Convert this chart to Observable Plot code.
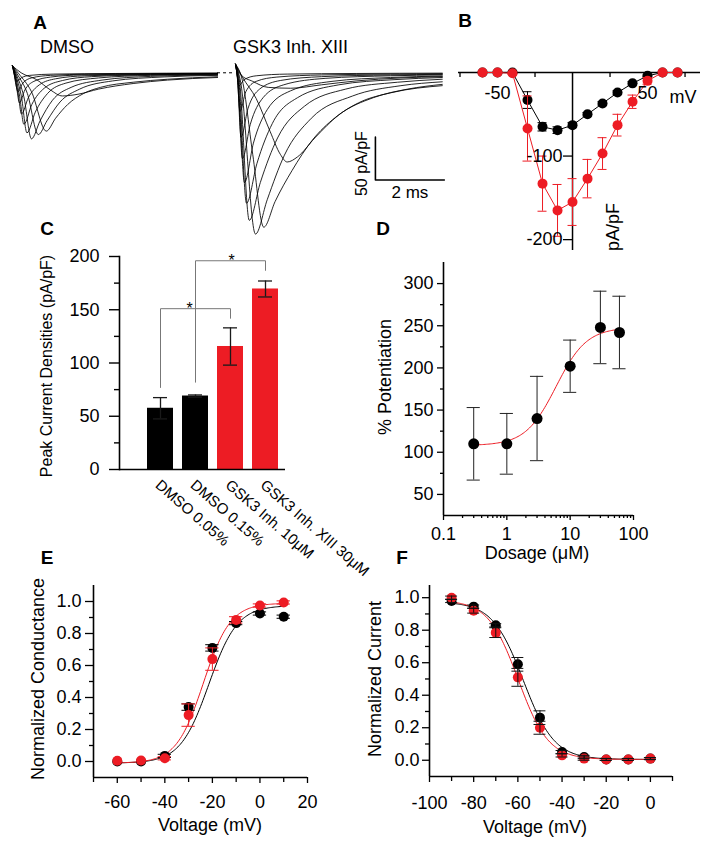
<!DOCTYPE html>
<html><head><meta charset="utf-8">
<script src="https://cdn.jsdelivr.net/npm/d3@7"></script>
<script src="https://cdn.jsdelivr.net/npm/@observablehq/plot@0.6"></script>
<style>
body{margin:0;background:#fff;}
#fig{position:relative;width:714px;height:848px;overflow:hidden;font-family:"Liberation Sans",Arial,Helvetica,sans-serif;color:#000;background:#fff;}
.p{position:absolute;}
.t{position:absolute;white-space:nowrap;line-height:1;}
</style></head><body><div id="fig"></div>
<script>
const RED = "#ed1c24";

// ---------- Panel A: representative traces (time ms, current pA/pF) ----------
const dmsoTraces = [
  [[0,8],[0.04,0],[0.12,-10],[0.25,-6],[0.5,-3],[1.2,-1.5],[3,-0.8],[5.95,-0.3]],
  [[0,8],[0.05,-2],[0.1,-14],[0.16,-22],[0.3,-12],[0.55,-6],[1.1,-3],[2.2,-1.6],[4,-1],[5.95,-0.6]],
  [[0,8],[0.05,-1],[0.13,-20],[0.2,-35],[0.36,-20],[0.62,-10],[1.1,-5],[2,-2.5],[4,-1.4],[5.95,-0.9]],
  [[0,8],[0.06,-1],[0.17,-26],[0.26,-48],[0.46,-29],[0.78,-14],[1.25,-7],[2.1,-3.5],[4,-1.8],[5.95,-1.1]],
  [[0,8],[0.07,-1],[0.21,-28],[0.33,-60],[0.56,-37],[0.92,-18],[1.45,-9],[2.3,-4.5],[4,-2.3],[5.95,-1.4]],
  [[0,8],[0.08,-1],[0.26,-28],[0.42,-70],[0.66,-46],[1.02,-24],[1.55,-12],[2.5,-6],[4,-3],[5.95,-1.8]],
  [[0,8],[0.1,-1],[0.33,-28],[0.55,-77],[0.8,-56],[1.16,-32],[1.7,-17],[2.6,-8.5],[4,-4.2],[5.95,-2.4]],
  [[0,8],[0.13,-1],[0.43,-24],[0.75,-72],[1.0,-56],[1.38,-34],[1.95,-19],[2.9,-9.5],[4.4,-4.8],[5.95,-3]],
  [[0,8],[0.18,-1],[0.55,-22],[0.98,-68],[1.25,-53],[1.6,-37],[2.07,-24],[2.55,-17],[3.5,-11],[4.5,-7.5],[5.95,-4.6]],
  [[0,8],[0.25,0],[0.7,-8],[1.1,-20],[1.45,-27],[1.9,-25],[2.5,-19],[3.5,-12.5],[4.5,-8.5],[5.95,-5.5]]
];
const gskTraces = [
  [[0,10],[0.04,0],[0.1,-15],[0.25,-8],[0.6,-3.5],[1.5,-1.5],[3.5,-0.8],[6,-0.4]],
  [[0,10],[0.05,-4],[0.13,-45],[0.3,-22],[0.6,-10],[1.2,-5],[2.5,-2.5],[4.5,-1.5],[6,-1]],
  [[0,10],[0.06,-8],[0.16,-75],[0.36,-42],[0.7,-19],[1.3,-9],[2.5,-4.5],[4.5,-2.5],[6,-1.8]],
  [[0,10],[0.07,-10],[0.2,-100],[0.43,-60],[0.8,-29],[1.4,-14],[2.6,-6.5],[4.5,-3.5],[6,-2.5]],
  [[0,10],[0.08,-11],[0.26,-128],[0.52,-82],[0.92,-43],[1.6,-21],[2.8,-10],[4.5,-5.5],[6,-3.8]],
  [[0,10],[0.1,-11],[0.32,-152],[0.62,-106],[1.07,-59],[1.8,-29],[3.0,-14],[4.6,-8],[6,-5.5]],
  [[0,10],[0.12,-11],[0.4,-172],[0.72,-128],[1.22,-76],[2.0,-39],[3.2,-19],[4.7,-11],[6,-7.5]],
  [[0,10],[0.15,-11],[0.58,-188],[0.92,-148],[1.42,-96],[2.2,-53],[3.4,-27],[4.8,-15],[6,-10.5]],
  [[0,10],[0.2,-9],[0.5,-95],[0.82,-180],[1.15,-150],[1.64,-114],[2.22,-79],[2.9,-52],[3.57,-35],[4.54,-23],[6,-15]],
  [[0,10],[0.2,-5],[0.6,-30],[1.0,-68],[1.3,-95],[1.5,-104],[1.8,-98],[2.3,-76],[3.0,-49],[4.0,-29],[5.0,-19],[6,-13.5]],
  [[0,10],[0.15,-2],[0.5,-10],[0.95,-17],[1.6,-18],[2.5,-14],[3.5,-9.5],[4.8,-6],[6,-4.5]]
];
const scaleBar = {t: 4.06, i: -125, dt: 2, di: 50, iLabel: "50 pA/pF", tLabel: "2 ms"};

// ---------- Panel B: I-V ----------
const ivVoltage = [-60,-50,-40,-30,-20,-10,0,10,20,30,40,50,60,70];
const ivDmso    = [0,0,0,-33,-65,-69,-63,-50,-37,-24,-13,-4,0,0];
const ivDmsoErr = [0,0,0,10,5,4,3,2,2,2,2,1,0,0];
const ivGsk     = [0,0,-1,-67,-133,-165,-155,-127,-97,-63,-35,-10,0,0];
const ivGskErr  = [0,0,1,39,33,31,28,23,19,13,8,4,0,0];
const ivTicksX = [-75,-50,-25,25,50,75];
const ivLabelsX = [-50,50];
const ivLabelsY = [-100,-200];

// ---------- Panel C: peak current densities ----------
const barLabels = ["DMSO 0.05%","DMSO 0.15%","GSK3 Inh. 10μM","GSK3 Inh. XIII 30μM"];
const barValues = [57.5, 69, 115.5, 169.5];
const barErr    = [10, 1, 17.5, 7.5];
const barGroup  = ["DMSO","DMSO","GSK","GSK"];
const brackets  = [{from: 0, to: 2, top: 151, left: 77, right: 142, star: 1},
                   {from: 1, to: 3, top: 196, left: 82, right: 187, star: 2}];
const cTicks = [0,50,100,150,200];
const cMinor = [25,75,125,175];

// ---------- Panel D: dose response ----------
const dose    = [0.3, 1, 3, 10, 30, 60];
const potMean = [110, 110, 140, 202, 248, 242];
const potErr  = [43, 36, 50, 31, 43, 43];
const hillFit = {bottom: 108, top: 248, ec50: 6, n: 1.8, from: 0.3, to: 60};
const dTicksY = [50,100,150,200,250,300];
const dMinorY = [75,125,175,225,275];
const dTicksX = [0.1,1,10,100];
const dMinorX = [0.2,0.3,0.4,0.5,0.6,0.7,0.8,0.9,2,3,4,5,6,7,8,9,20,30,40,50,60,70,80,90];

// ---------- Panel E: activation ----------
const gvVoltage = [-60,-50,-40,-30,-20,-10,0,10];
const gvDmso    = [0.0,0.0,0.035,0.34,0.71,0.865,0.925,0.905];
const gvDmsoErr = [0,0,0.01,0.02,0.02,0.01,0.01,0.01];
const gvGsk     = [0.005,0.006,0.02,0.29,0.64,0.885,0.975,0.994];
const gvGskErr  = [0,0,0.01,0.07,0.07,0.02,0.01,0.01];
const gvFitDmso = {bottom: -0.01, top: 0.975, vh: -21.5, k: 6.0};
const gvFitGsk  = {bottom: -0.01, top: 0.99, vh: -23.8, k: 5.7};

// ---------- Panel F: inactivation ----------
const ssVoltage = [-90,-80,-70,-60,-50,-40,-30,-20,-10,0];
const ssDmso    = [0.98,0.945,0.83,0.59,0.262,0.05,0.02,0.005,0.005,0.01];
const ssDmsoErr = [0.01,0.01,0.01,0.042,0.042,0.01,0.01,0.006,0.006,0.006];
const ssGsk     = [1.0,0.92,0.785,0.51,0.2,0.03,0.01,0.005,0.005,0.01];
const ssGskErr  = [0.01,0.015,0.03,0.055,0.04,0.01,0.01,0.006,0.006,0.006];
const ssFitDmso = {bottom: 0.005, top: 0.975, vh: -57.5, k: 7.0};
const ssFitGsk  = {bottom: 0.005, top: 0.985, vh: -59.8, k: 6.8};

// ================= rendering =================
const FONT = '"Liberation Sans", Arial, Helvetica, sans-serif';
const fig = document.getElementById("fig");
function style(extra) {
  return Object.assign({fontFamily: FONT, fontSize: "18px", background: "transparent",
    overflow: "visible", color: "#000", maxWidth: "none"}, extra || {});
}
function place(svg, left, top) {
  const d = document.createElement("div");
  d.className = "p"; d.style.left = left + "px"; d.style.top = top + "px";
  d.appendChild(svg); fig.appendChild(d);
}
function label(text, x, y, o = {}) {
  const d = document.createElement("div");
  d.className = "t"; d.textContent = text;
  d.style.left = x + "px"; d.style.top = y + "px";
  d.style.fontSize = (o.size || 18) + "px";
  if (o.bold) d.style.fontWeight = "bold";
  const tx = o.anchor === "start" ? "0" : "-50%";
  d.style.transform = `translate(${tx},-50%) rotate(${o.rotate || 0}deg)`;
  fig.appendChild(d);
}
function rows(xs, ys, es) { return xs.map((x, i) => ({x, y: ys[i], e: es ? es[i] : 0})); }
function errMarks(data, {cap, stroke = "#000", log = false, strokeWidth = 1}) {
  const dd = data.filter(d => d.e > 0);
  const x1 = log ? d => d.x / cap : d => d.x - cap;
  const x2 = log ? d => d.x * cap : d => d.x + cap;
  return [
    Plot.ruleX(dd, {x: "x", y1: d => d.y - d.e, y2: d => d.y + d.e, stroke, strokeWidth}),
    Plot.ruleY(dd, {y: d => d.y + d.e, x1, x2, stroke, strokeWidth}),
    Plot.ruleY(dd, {y: d => d.y - d.e, x1, x2, stroke, strokeWidth})
  ];
}
const flat = tr => tr.flatMap((pts, k) => pts.map(([t, i]) => ({k, t, i})));

// ---- Panel A ----
const aY = {domain: [-192, 12], axis: null};
place(Plot.plot({
  width: 224, height: 175, margin: 0,
  x: {domain: [0, 6.5], axis: null}, y: aY, style: style(),
  marks: [
    Plot.line(flat(dmsoTraces), {x: "t", y: "i", z: "k", curve: "monotone-x", stroke: "#000", strokeWidth: 0.85}),
    Plot.ruleY([0], {x1: 5.95, x2: 6.45, stroke: "#000", strokeWidth: 1, strokeDasharray: "3,3"})
  ]
}), 12, 62);
place(Plot.plot({
  width: 224, height: 175, margin: 0,
  x: {domain: [0, 6.5], axis: null}, y: aY, style: style(),
  marks: [
    Plot.line(flat(gskTraces), {x: "t", y: "i", z: "k", curve: "monotone-x", stroke: "#000", strokeWidth: 0.85}),
    Plot.line([[scaleBar.t, scaleBar.i + scaleBar.di], [scaleBar.t, scaleBar.i], [scaleBar.t + scaleBar.dt, scaleBar.i]],
      {stroke: "#000", strokeWidth: 1.6}),
    Plot.text([scaleBar], {x: d => d.t, y: d => d.i + d.di / 2, text: d => d.iLabel, rotate: -90, dx: -14, dy: 5, fontSize: 16, fill: "#000"}),
    Plot.text([scaleBar], {x: d => d.t + d.dt / 2, y: d => d.i, text: d => d.tLabel, dy: 13, fontSize: 17, fill: "#000"})
  ]
}), 235, 62);

// ---- Panel B ----
const bD = rows(ivVoltage, ivDmso, ivDmsoErr), bG = rows(ivVoltage, ivGsk, ivGskErr);
place(Plot.plot({
  width: 274, height: 220, marginLeft: 18, marginRight: 14, marginTop: 32, marginBottom: 10,
  x: {domain: [-76, 85.3], axis: null}, y: {domain: [-213, 0], axis: null}, style: style(),
  marks: [
    Plot.ruleY([0], {stroke: "#000", strokeWidth: 1.5}),
    Plot.ruleX([0], {stroke: "#000", strokeWidth: 1.5}),
    Plot.ruleX(ivTicksX, {x: d => d, y1: 0, y2: -6, stroke: "#000", strokeWidth: 1.3}),
    Plot.ruleY(ivLabelsY, {y: d => d, x1: -6, x2: 0, stroke: "#000", strokeWidth: 1.3}),
    Plot.line(bD, {x: "x", y: "y", stroke: "#000", strokeWidth: 1}),
    ...errMarks(bD, {cap: 3}),
    Plot.dot(bD, {x: "x", y: "y", r: 5, fill: "#000"}),
    Plot.line(bG, {x: "x", y: "y", stroke: RED, strokeWidth: 1}),
    ...errMarks(bG, {cap: 3, stroke: RED}),
    Plot.dot(bG, {x: "x", y: "y", r: 5, fill: RED}),
    Plot.text(ivLabelsX, {x: d => d, y: 0, dy: 21, text: d => String(d), fill: "#000"}),
    Plot.text(ivLabelsY, {x: 0, y: d => d, dx: -10, textAnchor: "end", text: d => String(d), fill: "#000"})
  ]
}), 440, 40);

// ---- Panel C ----
const cData = barLabels.map((l, i) => ({l, v: barValues[i], e: barErr[i], g: barGroup[i]}));
const brLines = brackets.flatMap((b, k) => [
  {k, x: barLabels[b.from], y: b.left}, {k, x: barLabels[b.from], y: b.top},
  {k, x: barLabels[b.to], y: b.top}, {k, x: barLabels[b.to], y: b.right}]);
place(Plot.plot({
  width: 300, height: 260, marginLeft: 119, marginRight: 15, marginTop: 26, marginBottom: 21,
  x: {type: "band", domain: barLabels, range: [142, 282], paddingInner: 0.27, paddingOuter: 0.135, axis: null},
  y: {domain: [0, 200]},
  color: {domain: ["DMSO", "GSK"], range: ["#000", RED]},
  style: style(),
  marks: [
    Plot.barY(cData, {x: "l", y: "v", fill: "g"}),
    Plot.ruleX(cData, {x: "l", y1: d => d.v - d.e, y2: d => d.v + d.e, stroke: "#1a1a1a", strokeWidth: 1.3}),
    Plot.tickY(cData, {x: "l", y: d => d.v + d.e, insetLeft: 6, insetRight: 6, stroke: "#1a1a1a", strokeWidth: 1.3}),
    Plot.tickY(cData, {x: "l", y: d => d.v - d.e, insetLeft: 6, insetRight: 6, stroke: "#1a1a1a", strokeWidth: 1.3}),
    Plot.line(brLines, {x: "x", y: "y", z: "k", stroke: "#777", strokeWidth: 1}),
    Plot.text(brackets.slice(0, 1), {x: d => barLabels[d.star], y: d => d.top, text: () => "*", fontSize: 16, dx: -6, fill: "#000"}),
    Plot.text(brackets.slice(1), {x: d => barLabels[d.star], y: d => d.top, text: () => "*", fontSize: 16, dx: 1, fill: "#000"}),
    Plot.ruleY([0], {stroke: "#000", strokeWidth: 1.6}),
    Plot.frame({anchor: "left", stroke: "#000", strokeWidth: 1.6}),
    Plot.axisY({ticks: cTicks, tickSize: 10, tickPadding: 10, label: null, strokeWidth: 1.4, tickFormat: d => String(d)}),
    Plot.axisY({ticks: cMinor, tickSize: 5, label: null, strokeWidth: 1.4, tickFormat: () => ""}),
    Plot.text(cData, {x: "l", y: 0, text: "l", rotate: 41, textAnchor: "start", lineAnchor: "top", dy: 9, dx: 1, fontSize: 15, fill: "#000"})
  ]
}), 0, 230);

// ---- Panel D ----
const dRows = rows(dose, potMean, potErr);
const dFit = d3.range(Math.log10(hillFit.from), Math.log10(hillFit.to) + 1e-9, 0.02).map(l => {
  const x = Math.pow(10, l);
  return {x, y: hillFit.bottom + (hillFit.top - hillFit.bottom) / (1 + Math.pow(hillFit.ec50 / x, hillFit.n))};
});
place(Plot.plot({
  width: 344, height: 300, marginLeft: 73, marginRight: 81, marginTop: 12, marginBottom: 35,
  x: {type: "log", domain: [0.1, 100]}, y: {domain: [25, 325]}, style: style(),
  marks: [
    Plot.ruleY([25], {stroke: "#000", strokeWidth: 1.6}),
    Plot.ruleX([0.1], {stroke: "#000", strokeWidth: 1.6}),
    Plot.axisY({ticks: dTicksY, tickSize: 6, tickPadding: 4, label: null, strokeWidth: 1.3, tickFormat: d => String(d)}),
    Plot.axisY({ticks: dMinorY, tickSize: 3, label: null, strokeWidth: 1.3, tickFormat: () => ""}),
    Plot.axisX({ticks: dTicksX, tickSize: 5, tickPadding: 7, label: null, strokeWidth: 1.3, tickFormat: d => String(d)}),
    Plot.axisX({ticks: dMinorX, tickSize: 3, label: null, strokeWidth: 1.3, tickFormat: () => ""}),
    Plot.line(dFit, {x: "x", y: "y", stroke: RED, strokeWidth: 1}),
    ...errMarks(dRows, {cap: 1.27, log: true, stroke: "#222"}),
    Plot.dot(dRows, {x: "x", y: "y", r: 5.5, fill: "#000"})
  ]
}), 370, 250);

// ---- Panel E ----
const boltzUp = (p, v) => p.bottom + (p.top - p.bottom) / (1 + Math.exp((p.vh - v) / p.k));
const eFitD = d3.range(-60, 10.01, 0.5).map(v => ({x: v, y: boltzUp(gvFitDmso, v)}));
const eFitG = d3.range(-60, 10.01, 0.5).map(v => ({x: v, y: boltzUp(gvFitGsk, v)}));
const eD = rows(gvVoltage, gvDmso, gvDmsoErr), eG = rows(gvVoltage, gvGsk, gvGskErr);
const f1 = d3.format(".1f");
place(Plot.plot({
  width: 340, height: 262, marginLeft: 93, marginRight: 33, marginTop: 5, marginBottom: 65,
  x: {domain: [-70, 20]}, y: {domain: [-0.1, 1.1]}, style: style(),
  marks: [
    Plot.ruleY([-0.1], {stroke: "#000", strokeWidth: 1.6}),
    Plot.ruleX([-70], {stroke: "#000", strokeWidth: 1.6}),
    Plot.axisY({ticks: [0, 0.2, 0.4, 0.6, 0.8, 1.0], tickSize: 8, tickPadding: 4, label: null, strokeWidth: 1.3, tickFormat: f1}),
    Plot.axisY({ticks: [0.1, 0.3, 0.5, 0.7, 0.9], tickSize: 4, label: null, strokeWidth: 1.3, tickFormat: () => ""}),
    Plot.axisX({ticks: [-60, -40, -20, 0, 20], tickSize: 6, tickPadding: 12, label: null, strokeWidth: 1.3, tickFormat: d => String(d)}),
    Plot.axisX({ticks: [-70, -50, -30, -10, 10], tickSize: 5, label: null, strokeWidth: 1.3, tickFormat: () => ""}),
    Plot.line(eFitD, {x: "x", y: "y", stroke: "#000", strokeWidth: 1}),
    Plot.line(eFitG, {x: "x", y: "y", stroke: RED, strokeWidth: 1}),
    ...errMarks(eD, {cap: 2.8}),
    Plot.dot(eD, {x: "x", y: "y", r: 5, fill: "#000"}),
    ...errMarks(eG, {cap: 2.8, stroke: RED}),
    Plot.dot(eG, {x: "x", y: "y", r: 5, fill: RED})
  ]
}), 0, 580);

// ---- Panel F ----
const boltzDown = (p, v) => p.bottom + (p.top - p.bottom) / (1 + Math.exp((v - p.vh) / p.k));
const fFitD = d3.range(-90, 0.01, 0.5).map(v => ({x: v, y: boltzDown(ssFitDmso, v)}));
const fFitG = d3.range(-90, 0.01, 0.5).map(v => ({x: v, y: boltzDown(ssFitGsk, v)}));
const fD = rows(ssVoltage, ssDmso, ssDmsoErr), fG = rows(ssVoltage, ssGsk, ssGskErr);
place(Plot.plot({
  width: 354, height: 262, marginLeft: 69, marginRight: 42, marginTop: 5, marginBottom: 66,
  x: {domain: [-100, 10]}, y: {domain: [-0.1, 1.075]}, style: style(),
  marks: [
    Plot.ruleY([-0.1], {stroke: "#000", strokeWidth: 1.6}),
    Plot.ruleX([-100], {stroke: "#000", strokeWidth: 1.6}),
    Plot.axisY({ticks: [0, 0.2, 0.4, 0.6, 0.8, 1.0], tickSize: 7, tickPadding: 3, label: null, strokeWidth: 1.3, tickFormat: f1}),
    Plot.axisY({ticks: [0.1, 0.3, 0.5, 0.7, 0.9], tickSize: 4, label: null, strokeWidth: 1.3, tickFormat: () => ""}),
    Plot.axisX({ticks: [-100, -80, -60, -40, -20, 0], tickSize: 6, tickPadding: 14, label: null, strokeWidth: 1.3, tickFormat: d => String(d)}),
    Plot.axisX({ticks: [-90, -70, -50, -30, -10, 10], tickSize: 5, label: null, strokeWidth: 1.3, tickFormat: () => ""}),
    Plot.line(fFitD, {x: "x", y: "y", stroke: "#000", strokeWidth: 1}),
    Plot.line(fFitG, {x: "x", y: "y", stroke: RED, strokeWidth: 1}),
    Plot.dot(fD, {x: "x", y: "y", r: 5, fill: "#000"}),
    Plot.dot(fG, {x: "x", y: "y", r: 5, fill: RED}),
    ...errMarks(fD, {cap: 2.7, stroke: "#111"}),
    ...errMarks(fG, {cap: 2.7, stroke: "#111"})
  ]
}), 360, 580);

// ---- HTML text: panel letters and titles ----
[["A", 40, 22], ["B", 465, 20], ["C", 47, 228], ["D", 383, 228], ["E", 47, 557], ["F", 402, 557]]
  .forEach(([t, x, y]) => label(t, x, y, {bold: true, size: 19}));
label("DMSO", 40, 47, {anchor: "start", size: 18});
label("GSK3 Inh. XIII", 233, 47, {anchor: "start", size: 18});
label("mV", 683, 97);
label("pA/pF", 613, 227, {rotate: -90});
label("Peak Current Densities (pA/pF)", 47, 366, {rotate: -90, size: 16});
label("% Potentiation", 385, 377, {rotate: -90});
label("Dosage (μM)", 537, 553);
label("Normalized Conductance", 38, 679, {rotate: -90});
label("Voltage (mV)", 210, 825);
label("Normalized Current", 375, 679, {rotate: -90});
label("Voltage (mV)", 535, 827);
</script></body></html>
